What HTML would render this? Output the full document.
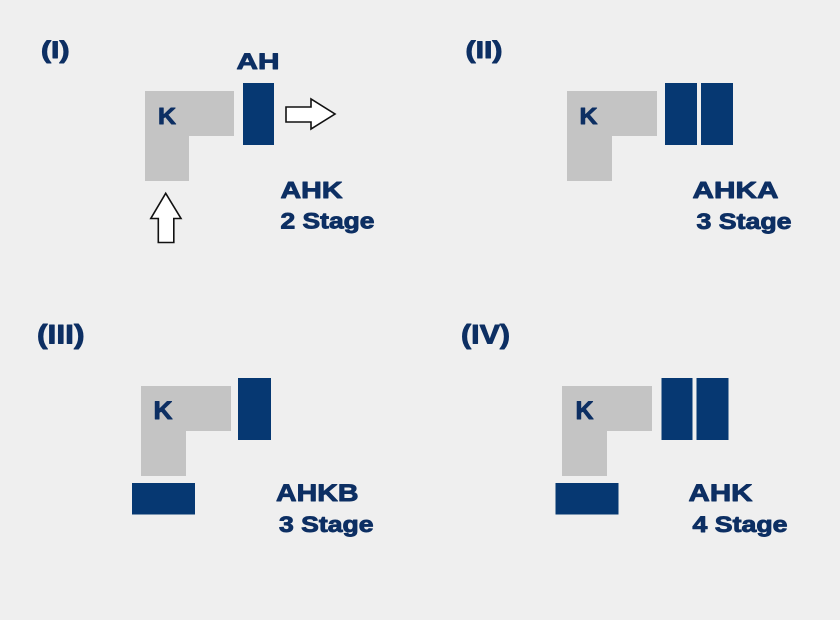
<!DOCTYPE html>
<html><head><meta charset="utf-8"><style>
html,body{margin:0;padding:0;background:#efefef;}
svg{display:block;}
text{font-family:"Liberation Sans",sans-serif;font-weight:bold;fill:#0d2f63;stroke:#0d2f63;stroke-width:0.9;stroke-linejoin:round;}
</style></head><body>
<svg width="840" height="620" viewBox="0 0 840 620" xmlns="http://www.w3.org/2000/svg">
<rect width="840" height="620" fill="#efefef"/>

<!-- Panel I -->
<text x="41" y="58" font-size="24" textLength="28.5" lengthAdjust="spacingAndGlyphs">(I)</text>
<polygon points="145,91 234,91 234,136 189,136 189,181 145,181" fill="#c4c4c4"/>
<text x="158" y="124" font-size="23.5" textLength="18" lengthAdjust="spacingAndGlyphs">K</text>
<rect x="243" y="83" width="31" height="62" fill="#063872"/>
<text x="236.5" y="69" font-size="22.5" textLength="43" lengthAdjust="spacingAndGlyphs">AH</text>
<polygon points="286,107 311,107 311,99 335,114 311,129 311,122 286,122" fill="#ffffff" stroke="#111" stroke-width="1.6"/>
<polygon points="158.3,242.5 158.3,218.5 150.8,218.5 165.7,193.3 181,218.5 173.8,218.5 173.8,242.5" fill="#ffffff" stroke="#111" stroke-width="1.6"/>
<text x="280.5" y="198" font-size="23" textLength="62" lengthAdjust="spacingAndGlyphs">AHK</text>
<text x="280.5" y="228.5" font-size="22.5" textLength="94" lengthAdjust="spacingAndGlyphs">2 Stage</text>

<!-- Panel II -->
<text x="465.5" y="58" font-size="24" textLength="37" lengthAdjust="spacingAndGlyphs">(II)</text>
<polygon points="567,91 657,91 657,136 612,136 612,181 567,181" fill="#c4c4c4"/>
<text x="579.5" y="124" font-size="23.5" textLength="18" lengthAdjust="spacingAndGlyphs">K</text>
<rect x="665" y="83" width="32" height="62" fill="#063872"/>
<rect x="701" y="83" width="32" height="62" fill="#063872"/>
<text x="692.5" y="198" font-size="23" textLength="86" lengthAdjust="spacingAndGlyphs">AHKA</text>
<text x="696.5" y="229" font-size="22.5" textLength="95" lengthAdjust="spacingAndGlyphs">3 Stage</text>

<!-- Panel III -->
<text x="37" y="343.5" font-size="27" textLength="47.5" lengthAdjust="spacingAndGlyphs">(III)</text>
<polygon points="141,386 231,386 231,431 186,431 186,476 141,476" fill="#c4c4c4"/>
<text x="153.5" y="419" font-size="25" textLength="19" lengthAdjust="spacingAndGlyphs">K</text>
<rect x="238" y="378" width="33" height="62" fill="#063872"/>
<rect x="132" y="483" width="63" height="31.5" fill="#063872"/>
<text x="276" y="501" font-size="24.5" textLength="82.5" lengthAdjust="spacingAndGlyphs">AHKB</text>
<text x="279" y="532" font-size="22.5" textLength="94.5" lengthAdjust="spacingAndGlyphs">3 Stage</text>

<!-- Panel IV -->
<text x="461" y="343.5" font-size="27" textLength="49" lengthAdjust="spacingAndGlyphs">(IV)</text>
<polygon points="562,386 652,386 652,431 607,431 607,476 562,476" fill="#c4c4c4"/>
<text x="575.5" y="419" font-size="25" textLength="18" lengthAdjust="spacingAndGlyphs">K</text>
<rect x="661.5" y="378" width="31" height="62" fill="#063872"/>
<rect x="696.5" y="378" width="32" height="62" fill="#063872"/>
<rect x="555.5" y="483" width="63" height="31.5" fill="#063872"/>
<text x="688.5" y="501" font-size="24.5" textLength="64" lengthAdjust="spacingAndGlyphs">AHK</text>
<text x="692.5" y="532" font-size="22.5" textLength="95" lengthAdjust="spacingAndGlyphs">4 Stage</text>
</svg>
</body></html>
